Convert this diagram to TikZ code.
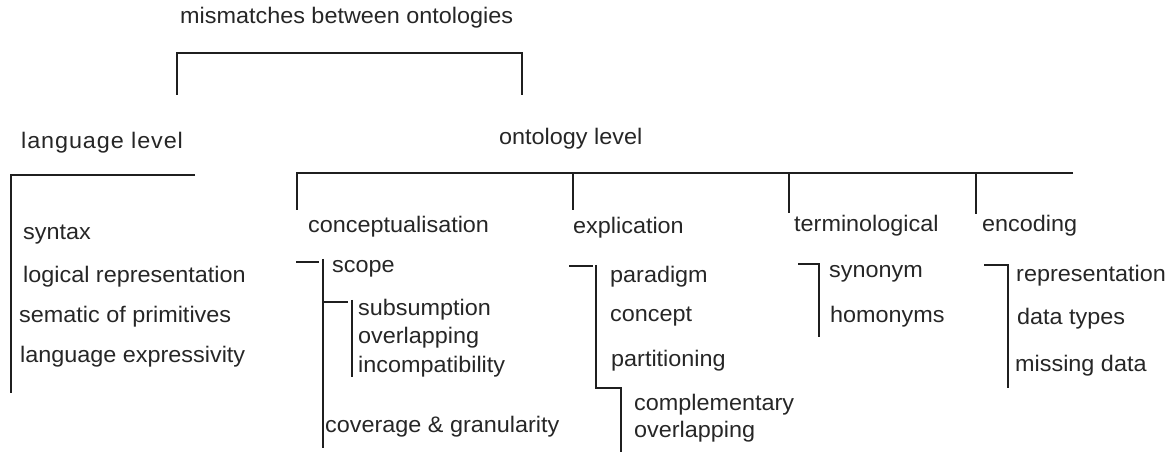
\documentclass[tikz,border=0pt]{standalone}
\usepackage{fontspec}
\setmainfont{Liberation Sans}[FakeStretch=1.04]
\newfontfamily\spacedfont{Liberation Sans}[FakeStretch=1.04,LetterSpace=4]
\begin{document}
\begin{tikzpicture}[x=1pt,y=-1pt,
  lbl/.style={anchor=base west, inner sep=0pt, font=\fontsize{22.5}{27}\selectfont, text=black!85},
  ln/.style={line width=2.8pt, draw=black!88, line join=miter}]
\useasboundingbox (0,0) rectangle (1171,454);
% labels
\node[lbl] (title) at (180,24) {mismatches between ontologies};
\node[lbl, font=\spacedfont\fontsize{22.5}{27}\selectfont] (lang) at (21,149) {language level};
\node[lbl] (onto) at (499,145) {ontology level};
\node[lbl] (syntax) at (23,240) {syntax};
\node[lbl] (logrep) at (23,283) {logical representation};
\node[lbl] (semprim) at (19,323) {sematic of primitives};
\node[lbl] (langexp) at (20,363) {language expressivity};
\node[lbl] (concept) at (308,233) {conceptualisation};
\node[lbl] (explic) at (573,234) {explication};
\node[lbl] (termin) at (794,232) {terminological};
\node[lbl] (encod) at (982,232) {encoding};
\node[lbl] (scope) at (332,273) {scope};
\node[lbl] (subsum) at (358,316) {subsumption};
\node[lbl] (overl1) at (358,344) {overlapping};
\node[lbl] (incomp) at (358,373) {incompatibility};
\node[lbl] (covgran) at (325,432) {coverage \& granularity};
\node[lbl] (paradigm) at (610,283) {paradigm};
\node[lbl] (conc) at (610,322) {concept};
\node[lbl] (partit) at (611,367) {partitioning};
\node[lbl] (compl) at (634,411) {complementary};
\node[lbl] (overl2) at (634,438) {overlapping};
\node[lbl] (synonym) at (829,278) {synonym};
\node[lbl] (homonym) at (830,323) {homonyms};
\node[lbl] (repres) at (1016,282) {representation};
\node[lbl] (datat) at (1017,325) {data types};
\node[lbl] (missd) at (1015,372) {missing data};
% top bracket
\coordinate (tL) at (177,95);
\coordinate (tLc) at (177,53);
\coordinate (tRc) at (522,53);
\coordinate (tR) at (522,95);
\draw[ln] (tL) -- (tLc) -- (tRc) -- (tR);
% language level bracket
\coordinate (lE) at (195,175);
\coordinate (lC) at (11,175);
\coordinate (lB) at (11,393);
\draw[ln] (lE) -- (lC) -- (lB);
% ontology level bracket
\coordinate (oE) at (1073,173);
\coordinate (oC) at (297,173);
\coordinate (oB1) at (297,210);
\coordinate (oT2) at (573,173);
\coordinate (oB2) at (573,210);
\coordinate (oT3) at (789,173);
\coordinate (oB3) at (789,213);
\coordinate (oT4) at (976,173);
\coordinate (oB4) at (976,214);
\draw[ln] (oE) -- (oC) -- (oB1);
\draw[ln] (oT2) -- (oB2);
\draw[ln] (oT3) -- (oB3);
\draw[ln] (oT4) -- (oB4);
% conceptualisation sub-brackets
\coordinate (c1a) at (296,262);
\coordinate (c1b) at (319,262);
\coordinate (c2a) at (323,259);
\coordinate (c2b) at (323,448);
\coordinate (c3a) at (323,302);
\coordinate (c3b) at (348,302);
\coordinate (c4a) at (352,300);
\coordinate (c4b) at (352,377);
\draw[ln] (c1a) -- (c1b);
\draw[ln] (c2a) -- (c2b);
\draw[ln] (c3a) -- (c3b);
\draw[ln] (c4a) -- (c4b);
% explication sub-brackets
\coordinate (e1a) at (569,266);
\coordinate (e1b) at (593,266);
\coordinate (e2a) at (596,265);
\coordinate (e2c) at (596,388);
\coordinate (e3c) at (621,388);
\coordinate (e3b) at (621,452);
\draw[ln] (e1a) -- (e1b);
\draw[ln] (e2a) -- (e2c) -- (e3c) -- (e3b);
% terminological sub-bracket
\coordinate (t1a) at (798,264);
\coordinate (t1c) at (819,264);
\coordinate (t1b) at (819,337);
\draw[ln] (t1a) -- (t1c) -- (t1b);
% encoding sub-bracket
\coordinate (n1a) at (984,265);
\coordinate (n1c) at (1008,265);
\coordinate (n1b) at (1008,388);
\draw[ln] (n1a) -- (n1c) -- (n1b);
\end{tikzpicture}
\end{document}
